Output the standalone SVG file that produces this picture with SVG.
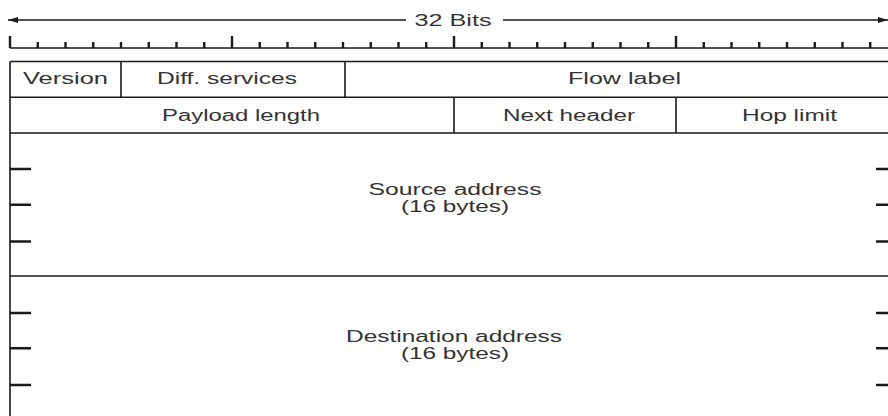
<svg xmlns="http://www.w3.org/2000/svg" width="888" height="416" viewBox="0 0 888 416">
  <style>
    .ln { stroke: #1a1a1a; stroke-width: 1.6; fill: none; }
    .tk { stroke: #1a1a1a; stroke-width: 2.4; fill: none; }
    .lb { font-family: "Liberation Sans", Arial, sans-serif; font-size: 16px; fill: #333; text-anchor: middle; }
  </style>
  <defs>
    <marker id="ah" viewBox="0 0 10 6" refX="10" refY="3" markerWidth="10" markerHeight="6" markerUnits="userSpaceOnUse" orient="auto-start-reverse">
      <path d="M0,0 L10,3 L0,6 Z" fill="#1a1a1a"/>
    </marker>
  </defs>
  <rect width="888" height="416" fill="#fff"/>

  <g id="connectors">
    <line class="ln" x1="8" y1="20" x2="406" y2="20" marker-start="url(#ah)"/>
    <line class="ln" x1="503" y1="20" x2="888" y2="20" marker-end="url(#ah)"/>
  </g>

  <g id="width-label">
    <text class="lb" x="453" y="25.5" textLength="77" lengthAdjust="spacingAndGlyphs">32 Bits</text>
  </g>

  <g id="ruler">
    <line class="ln" x1="10" y1="48" x2="898" y2="48"/>
    <path class="tk" d="M10,36V48 M232,36V48 M454,36V48 M676,36V48
      M37.75,42V48 M65.5,42V48 M93.25,42V48 M121,42V48 M148.75,42V48 M176.5,42V48 M204.25,42V48
      M259.75,42V48 M287.5,42V48 M315.25,42V48 M343,42V48 M370.75,42V48 M398.5,42V48 M426.25,42V48
      M481.75,42V48 M509.5,42V48 M537.25,42V48 M565,42V48 M592.75,42V48 M620.5,42V48 M648.25,42V48
      M703.75,42V48 M731.5,42V48 M759.25,42V48 M787,42V48 M814.75,42V48 M842.5,42V48 M870.25,42V48"/>
  </g>

  <g id="header-frame">
    <path class="ln" d="M10,61.5 H898 M10,97.25 H898 M10,133 H898 M10,276 H898 M10,61.5 V416"/>
  </g>

  <g id="version">
    <text class="lb" x="65.5" y="84" textLength="85" lengthAdjust="spacingAndGlyphs">Version</text>
  </g>
  <g id="diff-services">
    <line class="ln" x1="121" y1="61.5" x2="121" y2="97.25"/>
    <text class="lb" x="227" y="84" textLength="140" lengthAdjust="spacingAndGlyphs">Diff. services</text>
  </g>
  <g id="flow-label">
    <line class="ln" x1="345" y1="61.5" x2="345" y2="97.25"/>
    <text class="lb" x="624.5" y="84" textLength="113" lengthAdjust="spacingAndGlyphs">Flow label</text>
  </g>
  <g id="payload-length">
    <text class="lb" x="241" y="121" textLength="158" lengthAdjust="spacingAndGlyphs">Payload length</text>
  </g>
  <g id="next-header">
    <line class="ln" x1="454" y1="97.25" x2="454" y2="133"/>
    <text class="lb" x="569" y="121" textLength="132" lengthAdjust="spacingAndGlyphs">Next header</text>
  </g>
  <g id="hop-limit">
    <line class="ln" x1="676" y1="97.25" x2="676" y2="133"/>
    <text class="lb" x="789.5" y="121" textLength="95" lengthAdjust="spacingAndGlyphs">Hop limit</text>
  </g>

  <g id="source-address">
    <path class="tk" d="M10,169H31 M10,204.7H31 M10,241.5H31 M876,169H898 M876,204.7H898 M876,241.5H898"/>
    <text class="lb" x="455" y="195" textLength="173" lengthAdjust="spacingAndGlyphs">Source address</text>
    <text class="lb" x="455" y="212" textLength="108" lengthAdjust="spacingAndGlyphs">(16 bytes)</text>
  </g>

  <g id="destination-address">
    <path class="tk" d="M10,313H31 M10,348.3H31 M10,385H31 M876,313H898 M876,348.3H898 M876,385H898"/>
    <text class="lb" x="454" y="342" textLength="216" lengthAdjust="spacingAndGlyphs">Destination address</text>
    <text class="lb" x="455" y="358.5" textLength="108" lengthAdjust="spacingAndGlyphs">(16 bytes)</text>
  </g>
</svg>
